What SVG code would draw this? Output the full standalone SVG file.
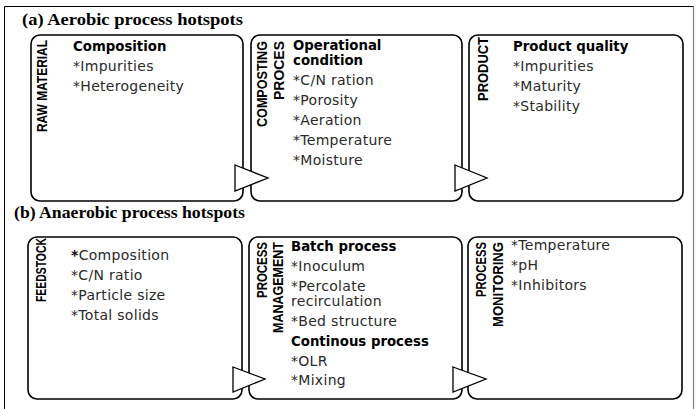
<svg xmlns="http://www.w3.org/2000/svg" width="697" height="409" viewBox="0 0 697 409">
<style>
.box{fill:#fff;stroke:#000;stroke-width:1.6}
.arr{fill:#fff;stroke:#000;stroke-width:1.3;stroke-linejoin:miter}
.ttl{font-family:"Liberation Serif",serif;font-weight:bold;font-size:16.5px;fill:#000}
.vl{font-family:"Liberation Sans",Arial,sans-serif;font-weight:bold;font-size:14.5px;fill:#000}
.b{font-family:"DejaVu Sans",sans-serif;font-weight:bold;font-size:13.3px;fill:#000}
.t{font-family:"DejaVu Sans",sans-serif;font-size:14px;letter-spacing:0.3px;fill:#2a2a2a}
</style>
<rect width="697" height="409" fill="#fff"/>
<g id="frame">
<path d="M4.5,409 V6.5 H693.5" fill="none" stroke="#000" stroke-width="1"/>
<path d="M693.5,6.5 V409" fill="none" stroke="#808080" stroke-width="1.2"/>
</g>
<text id="title-a" class="ttl" x="22" y="25" textLength="221" lengthAdjust="spacingAndGlyphs">(a) Aerobic process hotspots</text>
<text id="title-b" class="ttl" x="14" y="218" textLength="231" lengthAdjust="spacingAndGlyphs">(b) Anaerobic process hotspots</text>

<g id="raw-material">
<rect class="box" x="31" y="35" width="212" height="166" rx="9"/>
<text class="vl" transform="translate(46.5,40) rotate(-90)" text-anchor="end" textLength="92" lengthAdjust="spacingAndGlyphs">RAW MATERIAL</text>
<text class="b" x="73" y="51">Composition</text>
<text class="t" x="73" y="71">*Impurities</text>
<text class="t" x="73" y="91">*Heterogeneity</text>
</g>
<g id="composting-process">
<rect class="box" x="251" y="35" width="211" height="166" rx="9"/>
<text class="vl" transform="translate(267,41) rotate(-90)" text-anchor="end" textLength="86" lengthAdjust="spacingAndGlyphs">COMPOSTING</text>
<text class="vl" transform="translate(284,41) rotate(-90)" text-anchor="end" textLength="59" lengthAdjust="spacingAndGlyphs">PROCES</text>
<text class="b" x="293" y="50">Operational</text>
<text class="b" x="293" y="65">condition</text>
<text class="t" x="293" y="85">*C/N ration</text>
<text class="t" x="293" y="105">*Porosity</text>
<text class="t" x="293" y="125">*Aeration</text>
<text class="t" x="293" y="145">*Temperature</text>
<text class="t" x="293" y="165">*Moisture</text>
</g>
<g id="product">
<rect class="box" x="469" y="35" width="214" height="166" rx="9"/>
<text class="vl" transform="translate(488,37) rotate(-90)" text-anchor="end" textLength="64" lengthAdjust="spacingAndGlyphs">PRODUCT</text>
<text class="b" x="513" y="51">Product quality</text>
<text class="t" x="513" y="71">*Impurities</text>
<text class="t" x="513" y="91">*Maturity</text>
<text class="t" x="513" y="111">*Stability</text>
</g>

<g id="feedstock">
<rect class="box" x="28" y="237" width="214" height="162" rx="9"/>
<text class="vl" transform="translate(46,238) rotate(-90)" text-anchor="end" textLength="64" lengthAdjust="spacingAndGlyphs">FEEDSTOCK</text>
<text class="t" x="71" y="260"><tspan font-weight="bold" fill="#000">*</tspan>Composition</text>
<text class="t" x="71" y="280">*C/N ratio</text>
<text class="t" x="71" y="300">*Particle size</text>
<text class="t" x="71" y="320">*Total solids</text>
</g>
<g id="process-management">
<rect class="box" x="249" y="237" width="213" height="162" rx="9"/>
<text class="vl" transform="translate(267,242) rotate(-90)" text-anchor="end" textLength="56" lengthAdjust="spacingAndGlyphs">PROCESS</text>
<text class="vl" transform="translate(283,242) rotate(-90)" text-anchor="end" textLength="91" lengthAdjust="spacingAndGlyphs">MANAGEMENT</text>
<text class="b" x="291" y="251">Batch process</text>
<text class="t" x="291" y="271">*Inoculum</text>
<text class="t" x="291" y="291">*Percolate</text>
<text class="t" x="291" y="306">recirculation</text>
<text class="t" x="291" y="326">*Bed structure</text>
<text class="b" x="291" y="346">Continous process</text>
<text class="t" x="291" y="366">*OLR</text>
<text class="t" x="291" y="385">*Mixing</text>
</g>
<g id="process-monitoring">
<rect class="box" x="468" y="237" width="214" height="162" rx="9"/>
<text class="vl" transform="translate(486,242) rotate(-90)" text-anchor="end" textLength="55" lengthAdjust="spacingAndGlyphs">PROCESS</text>
<text class="vl" transform="translate(503,242) rotate(-90)" text-anchor="end" textLength="85" lengthAdjust="spacingAndGlyphs">MONITORING</text>
<text class="t" x="511" y="250">*Temperature</text>
<text class="t" x="511" y="270">*pH</text>
<text class="t" x="511" y="290">*Inhibitors</text>
</g>

<g id="connectors">
<polygon class="arr" points="235,165 268,178 235,191"/>
<polygon class="arr" points="455,165 487,178 455,191"/>
<polygon class="arr" points="233,367 265,379 233,392"/>
<polygon class="arr" points="453,367 486,379 453,392"/>
</g>
</svg>
